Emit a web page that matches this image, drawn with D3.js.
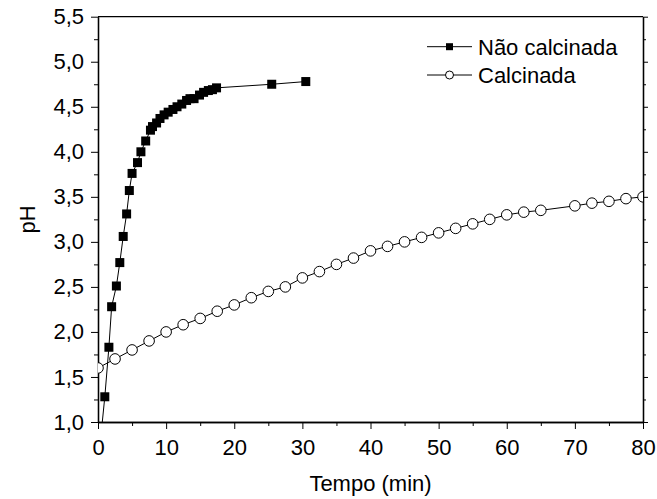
<!DOCTYPE html>
<html>
<head>
<meta charset="utf-8">
<script src="https://cdn.jsdelivr.net/npm/d3@7"></script>
<style>
  body { margin: 0; background: #fff; }
  svg { font-family: "Liberation Sans", Arial, sans-serif; }
</style>
</head>
<body>
<svg id="chart" width="657" height="499"></svg>
<script>
// Não calcinada (quadrados)
const tempoNC = [0.5, 1.0, 1.6, 2.0, 2.7, 3.2, 3.7, 4.2, 4.6, 5.0, 5.8, 6.3, 7.0, 7.7, 8.0, 8.6, 9.1, 9.7, 10.3, 11.0, 11.6, 12.3, 13.0, 13.5, 14.1, 14.9, 15.5, 16.2, 16.8, 17.4, 25.5, 30.5];
const phNC = [0.9, 1.28, 1.83, 2.28, 2.51, 2.77, 3.06, 3.31, 3.57, 3.76, 3.88, 4.00, 4.12, 4.24, 4.28, 4.32, 4.37, 4.41, 4.44, 4.47, 4.50, 4.53, 4.57, 4.59, 4.59, 4.63, 4.66, 4.68, 4.69, 4.71, 4.75, 4.78];

// Calcinada (círculos)
const tempoC = [0, 2.5, 5, 7.5, 10, 12.5, 15, 17.5, 20, 22.5, 25, 27.5, 30, 32.5, 35, 37.5, 40, 42.5, 45, 47.5, 50, 52.5, 55, 57.5, 60, 62.5, 65, 70, 72.5, 75, 77.5, 80];
const phC = [1.60, 1.70, 1.80, 1.90, 2.00, 2.08, 2.15, 2.23, 2.30, 2.38, 2.45, 2.50, 2.60, 2.67, 2.75, 2.82, 2.90, 2.95, 3.00, 3.05, 3.10, 3.15, 3.20, 3.25, 3.30, 3.33, 3.35, 3.40, 3.43, 3.45, 3.48, 3.50];

const xTicks = [0, 10, 20, 30, 40, 50, 60, 70, 80];
const yTicks = [1.0, 1.5, 2.0, 2.5, 3.0, 3.5, 4.0, 4.5, 5.0, 5.5];
const legendLabels = ['Não calcinada', 'Calcinada'];

const m = { l: 98, t: 16.7, r: 14, b: 77 };
const W = 657, H = 499;
const pw = W - m.l - m.r, ph = H - m.t - m.b;

const svg = d3.select('#chart');
const g = svg.append('g').attr('transform', `translate(${m.l},${m.t})`);

const x = d3.scaleLinear().domain([0, 80]).range([0, pw]);
const y = d3.scaleLinear().domain([1, 5.5]).range([ph, 0]);

const fmt = d => d3.format('.1f')(d).replace('.', ',');

// eixos
const xMinor = d3.range(5, 80, 10);
const yMinor = d3.range(1.25, 5.5, 0.5);

g.append('g').attr('transform', `translate(0,${ph})`)
  .call(d3.axisBottom(x).tickValues(xTicks).tickSize(7).tickPadding(10).tickSizeOuter(0).tickFormat(d3.format('d')));
g.append('g').attr('transform', `translate(0,${ph})`)
  .call(d3.axisBottom(x).tickValues(xMinor).tickSize(4).tickSizeOuter(0).tickFormat(''));
g.append('g')
  .call(d3.axisLeft(y).tickValues(yTicks).tickSize(7).tickPadding(7).tickSizeOuter(0).tickFormat(fmt));
g.append('g')
  .call(d3.axisLeft(y).tickValues(yMinor).tickSize(4).tickSizeOuter(0).tickFormat(''));
g.append('g').attr('transform', `translate(${pw},0)`)
  .call(d3.axisRight(y).tickValues(yTicks).tickSize(5).tickSizeOuter(0).tickFormat(''));
g.append('g').attr('transform', `translate(${pw},0)`)
  .call(d3.axisRight(y).tickValues(yMinor).tickSize(3).tickSizeOuter(0).tickFormat(''));
g.append('line').attr('x1', 0).attr('x2', pw).attr('y1', 0).attr('y2', 0).attr('stroke', '#000').attr('stroke-width', 1.3);

g.selectAll('.domain').attr('stroke', '#000').attr('stroke-width', 1.3);
g.selectAll('.tick line').attr('stroke', '#000').attr('stroke-width', 1);
g.selectAll('.tick text').attr('font-size', 22).attr('fill', '#000')
  .attr('font-family', '"Liberation Sans", Arial, sans-serif');

// títulos
svg.append('text').attr('x', m.l + pw / 2).attr('y', 491).attr('text-anchor', 'middle')
  .attr('font-size', 22).text('Tempo (min)');
svg.append('text').attr('transform', `translate(35,${m.t + ph / 2}) rotate(-90)`)
  .attr('text-anchor', 'middle').attr('font-size', 22).text('pH');

// área recortada
svg.append('defs').append('clipPath').attr('id', 'clip')
  .append('rect').attr('width', pw).attr('height', ph);
const plot = g.append('g').attr('clip-path', 'url(#clip)');

const line = d3.line().x(d => x(d[0])).y(d => y(d[1]));
const dataNC = tempoNC.map((t, i) => [t, phNC[i]]);
const dataC = tempoC.map((t, i) => [t, phC[i]]);

plot.append('path').datum(dataC).attr('d', line)
  .attr('fill', 'none').attr('stroke', '#000').attr('stroke-width', 1);
plot.append('path').datum(dataNC).attr('d', line)
  .attr('fill', 'none').attr('stroke', '#000').attr('stroke-width', 1);

plot.selectAll('circle.c').data(dataC).enter().append('circle')
  .attr('cx', d => x(d[0])).attr('cy', d => y(d[1])).attr('r', 5.3)
  .attr('fill', '#fff').attr('stroke', '#000').attr('stroke-width', 1);

const s = 9;
plot.selectAll('rect.nc').data(dataNC).enter().append('rect')
  .attr('x', d => x(d[0]) - s / 2).attr('y', d => y(d[1]) - s / 2)
  .attr('width', s).attr('height', s).attr('fill', '#000');

// legenda
const lg = svg.append('g');
legendLabels.forEach((lab, i) => {
  const ly = 46.7 + i * 28.3;
  lg.append('line').attr('x1', 427).attr('x2', 472).attr('y1', ly).attr('y2', ly)
    .attr('stroke', '#000').attr('stroke-width', 1);
  if (i === 0) {
    lg.append('rect').attr('x', 449.5 - 3.5).attr('y', ly - 3.5).attr('width', 7).attr('height', 7).attr('fill', '#000');
  } else {
    lg.append('circle').attr('cx', 449.5).attr('cy', ly).attr('r', 4)
      .attr('fill', '#fff').attr('stroke', '#000');
  }
  lg.append('text').attr('x', 478).attr('y', ly + 8).attr('font-size', 22).text(lab);
});
</script>
</body>
</html>
